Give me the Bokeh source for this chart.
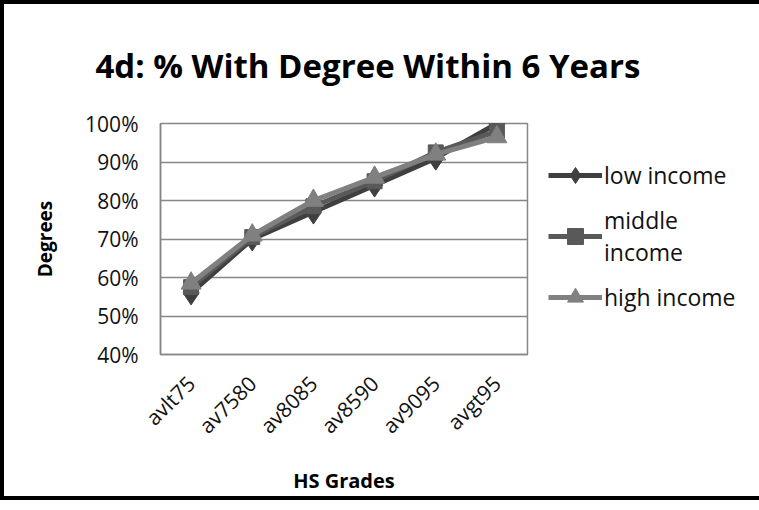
import math
from bokeh.plotting import figure
from bokeh.models import (Range1d, FactorRange, FixedTicker, NumeralTickFormatter,
                          Legend, LegendItem)
from bokeh.embed import file_html
from bokeh.resources import INLINE

categories = ["avlt75", "av7580", "av8085", "av8590", "av9095", "avgt95"]
low_income = [0.56, 0.70, 0.77, 0.84, 0.91, 1.00]
middle_income = [0.575, 0.705, 0.785, 0.85, 0.925, 0.98]
high_income = [0.585, 0.71, 0.80, 0.86, 0.92, 0.965]
y_ticks = [0.4, 0.5, 0.6, 0.7, 0.8, 0.9, 1.0]

FONT = "Open Sans"
GRID = "#868686"

p = figure(frame_width=367, frame_height=231, output_backend="svg", toolbar_location=None,
           x_range=FactorRange(*categories, range_padding=0),
           y_range=Range1d(0.4, 1.0),
           min_border_left=156, min_border_top=117,
           min_border_right=212, min_border_bottom=130)
p.styles = {"border": "4px solid black"}
p.outline_line_color = GRID
p.outline_line_width = 1.5

p.title.text = "4d: % With Degree Within 6 Years"
p.title.text_font = FONT
p.title.text_font_size = "33px"
p.title.text_font_style = "bold"
p.title.text_color = "#000000"
p.title.align = "left"
p.title.offset = -65
p.title.standoff = 72

p.xgrid.grid_line_color = None
p.ygrid.grid_line_color = GRID
p.ygrid.grid_line_width = 1.5
p.yaxis.ticker = FixedTicker(ticks=y_ticks)
p.yaxis.formatter = NumeralTickFormatter(format="0%")
for ax in (p.xaxis[0], p.yaxis[0]):
    ax.axis_line_color = GRID
    ax.axis_line_width = 1.5
    ax.major_tick_line_color = None
    ax.minor_tick_line_color = None
    ax.major_tick_out = 0
    ax.major_tick_in = 0
    ax.major_label_text_font = FONT
    ax.major_label_text_font_size = "21px"
    ax.major_label_text_color = "#111111"
    ax.axis_label_text_font = FONT
    ax.axis_label_text_font_style = "bold"
    ax.axis_label_text_color = "#000000"
p.yaxis.major_label_standoff = 22
p.xaxis.major_label_orientation = math.pi / 4
p.xaxis.major_label_standoff = 25
p.yaxis.axis_label = "Degrees"
p.yaxis.axis_label_text_font_size = "19px"
p.yaxis.axis_label_standoff = 24
p.xaxis.axis_label = "HS Grades"
p.xaxis.axis_label_text_font_size = "20px"
p.xaxis.axis_label_standoff = 15

series = [
    ("low income", low_income, "#3f3f3f", "diamond", 24),
    ("middle\nincome", middle_income, "#595959", "square", 15),
    ("high income", high_income, "#808080", "triangle", 20),
]
items = []
for name, vals, color, marker, size in series:
    r1 = p.line(categories, vals, line_color=color, line_width=5)
    r2 = p.scatter(categories, vals, marker=marker, size=size,
                   fill_color=color, line_color=color)
    items.append(LegendItem(label=name, renderers=[r1, r2]))

legend = Legend(items=items, location=(21, 37), orientation="vertical",
                label_text_font=FONT, label_text_font_size="23px",
                label_text_color="#111111",
                glyph_width=54, glyph_height=40, label_standoff=2,
                spacing=9, padding=0, margin=0,
                border_line_color=None, background_fill_alpha=0)
p.add_layout(legend, "right")

open("out.html", "w").write(file_html(p, INLINE))
